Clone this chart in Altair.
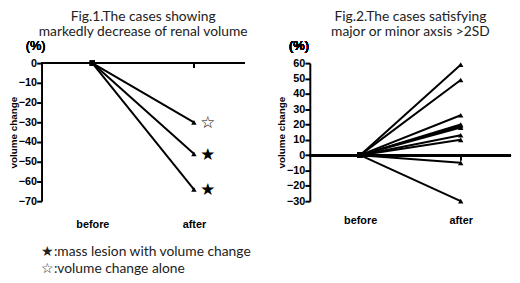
import altair as alt
import pandas as pd

phases = ["before", "after"]

# Fig.1 values (% volume change at "after"; all start at 0)
fig1_after = [-30, -46, -64]
fig1_star = ["☆", "★", "★"]

# Fig.2 values
fig2_after = [59, 49, 26, 20, 19, 18, 13, 10, -5, -30]

fig1_ticks = [-70, -60, -50, -40, -30, -20, -10, 0]
fig2_ticks = [-30, -20, -10, 0, 10, 20, 30, 40, 50, 60]

title1 = ["Fig.1.The cases showing", "markedly decrease of renal volume"]
title2 = ["Fig.2.The cases satisfying", "major or minor axsis >2SD"]
legend_lines = ["★:mass lesion with volume change", "☆:volume change alone"]


def long_df(after_vals):
    rows = []
    for i, v in enumerate(after_vals):
        rows.append({"case": i, "phase": "before", "value": 0})
        rows.append({"case": i, "phase": "after", "value": v})
    return pd.DataFrame(rows)


df1 = long_df(fig1_after)
df2 = long_df(fig2_after)
stars = pd.DataFrame({"phase": ["after"] * 3, "value": fig1_after, "star": fig1_star})

AXFONT = "Liberation Sans"
TFONT = "Lato"


def panel(df, domain, ticks, title, label_pad, width, height, pct_x, extra=None):
    xenc = alt.X("phase:O", sort=phases,
                 scale=alt.Scale(type="point", padding=0.5, domain=phases),
                 axis=alt.Axis(orient="bottom", domain=False, ticks=False, labelAngle=0,
                               labelFont=AXFONT, labelFontSize=11, labelFontWeight="bold",
                               labelColor="black", labelPadding=label_pad, title=None))
    yaxis = alt.Axis(values=ticks, tickCount=len(ticks), title="volume change", titleFont=AXFONT,
                     titleFontSize=10, titleFontWeight="bold", titleColor="black",
                     titlePadding=0,
                     labelFont=AXFONT, labelFontSize=11, labelFontWeight="bold",
                     labelColor="black", labelPadding=0, labelOverlap=False,
                     labelFlush=False, labelBound=False, labelSeparation=0,
                     domainColor="black", domainWidth=2, tickColor="black",
                     tickWidth=2, tickSize=5, grid=False)
    yscale = alt.Scale(domain=domain, nice=False, zero=False)
    yenc = alt.Y("value:Q", scale=yscale, axis=yaxis)
    base = alt.Chart(df)
    lines = base.mark_line(color="black", strokeWidth=2).encode(x=xenc, y=yenc, detail="case:N")
    zero = base.mark_rule(color="black", strokeWidth=2).encode(
        y=alt.Y(datum=0, scale=yscale, axis=yaxis))
    tick = base.mark_rule(color="black", strokeWidth=1.5, y2Offset=5).encode(
        x=alt.datum("after"), y=alt.datum(0), y2=alt.datum(0))
    sq = base.transform_filter(alt.datum.phase == "before").mark_point(
        shape="square", filled=True, color="black", size=30, opacity=1).encode(x=xenc, y=yenc)
    tri = base.transform_filter(alt.datum.phase == "after").mark_point(
        shape="triangle-up", filled=True, color="black", size=30, opacity=1).encode(x=xenc, y=yenc)
    pct = base.mark_text(font=AXFONT, fontSize=13, fontWeight="normal", color="black").encode(
        x=alt.value(pct_x), y=alt.value(-17), text=alt.value("(%)"))
    layers = [lines, zero, tick, sq, tri, pct]
    if extra is not None:
        layers.append(extra)
    return alt.layer(*layers).properties(
        width=width, height=height,
        title=alt.TitleParams(text=title, font=TFONT, fontSize=14, fontWeight="normal",
                              color="#222222", anchor="middle", lineHeight=16, offset=1))


star_layer = alt.Chart(stars).mark_text(dx=14, dy=1, fontSize=17, font="DejaVu Sans",
                                        color="black").encode(
    x=alt.X("phase:O", sort=phases), y="value:Q", text="star:N")

left = panel(df1, [-70, 0], fig1_ticks, title1, 18, 206, 140, -6, star_layer)
right = panel(df2, [-30, 60], fig2_ticks, title2, 14, 204, 140, -11)

chart = alt.hconcat(left, right, spacing=28).properties(
    padding=0,
    title=alt.TitleParams(text=legend_lines, orient="bottom", anchor="start", font=TFONT,
                          fontSize=14, fontWeight="normal", color="#222222",
                          lineHeight=17, dx=33, offset=16)
).configure_view(stroke=None).configure_concat(spacing=28).configure_axis(
    labelOverlap=False, labelSeparation=0)

chart.save("out.html", embed_options={"renderer": "svg", "actions": False})
